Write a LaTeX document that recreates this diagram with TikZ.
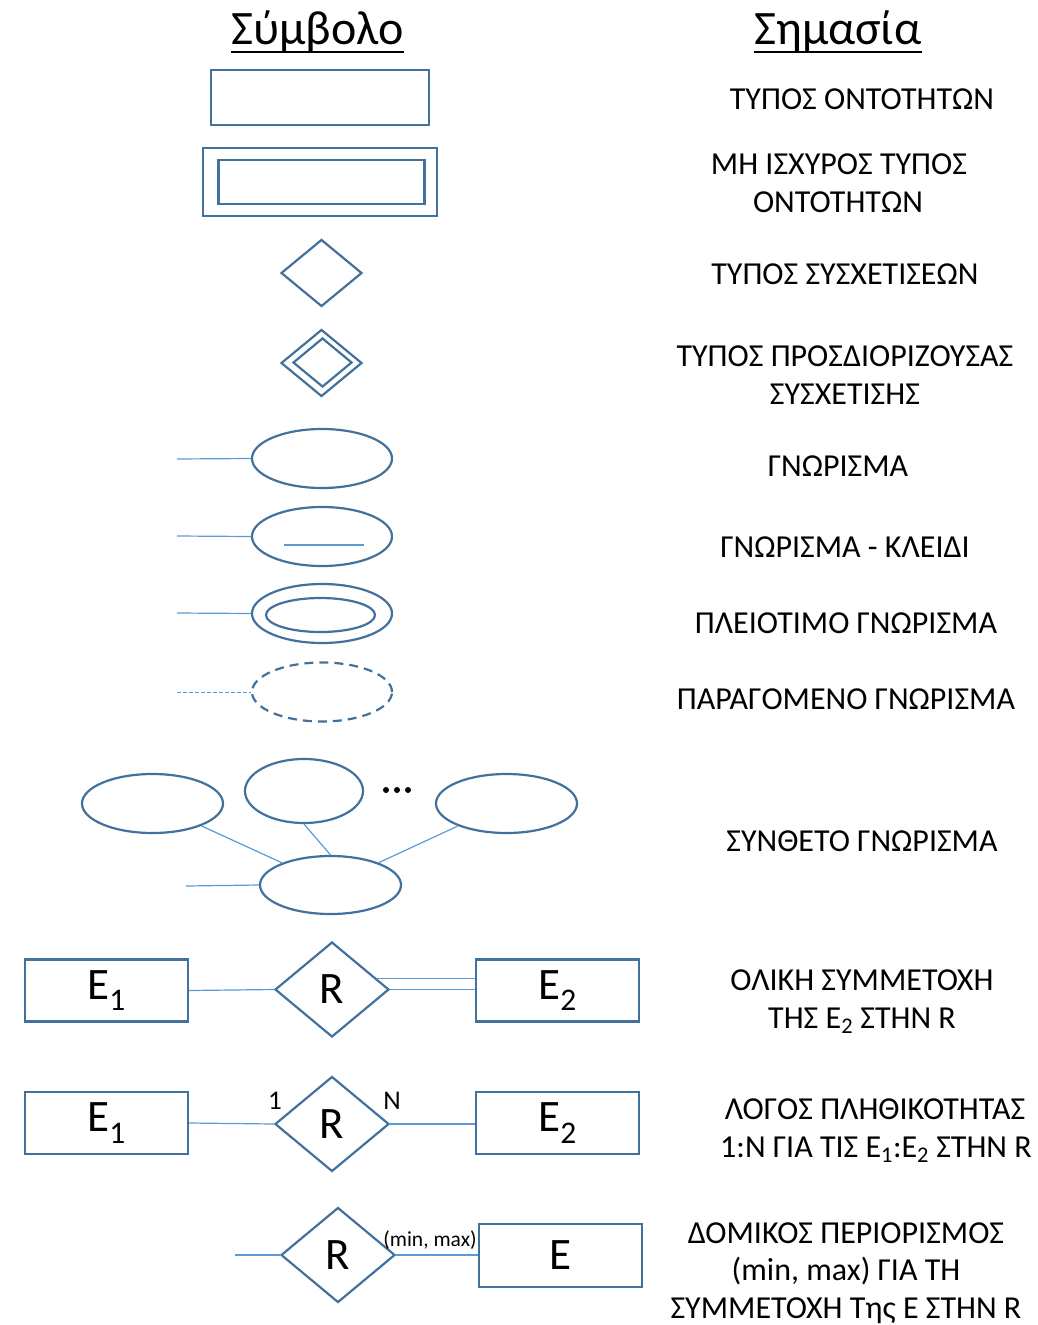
\documentclass[tikz,border=0pt]{standalone}
\usepackage{fontspec}
\setmainfont{Carlito}
\usetikzlibrary{shapes.geometric,calc}
\definecolor{shapeblue}{RGB}{65,113,156}
\definecolor{linkblue}{RGB}{91,155,213}
\begin{document}
\begin{tikzpicture}[x=1pt,y=-1pt,
  shp/.style={draw=shapeblue,line width=2.2pt,inner sep=0pt},
  ent/.style={shp,rectangle,minimum width=163pt,minimum height=62pt,font=\fontsize{45}{45}\selectfont},
  rel/.style={shp,diamond,minimum width=114pt,minimum height=95pt,font=\fontsize{45}{45}\selectfont},
  attr/.style={shp,ellipse,minimum width=140pt,minimum height=59pt},
  link/.style={draw=linkblue,line width=1.2pt},
  meaning/.style={anchor=base,inner sep=0pt,font=\fontsize{32}{38}\selectfont},
  heading/.style={anchor=base,inner sep=0pt,font=\fontsize{48}{48}\selectfont},
  card/.style={inner sep=0pt,anchor=base,font=\fontsize{27}{27}\selectfont},
]
\useasboundingbox (0,0) rectangle (1037,1325);

% column headings
\node[heading] (hsym) at (317.5,44) {Σύμβολο};
\node[heading] (hmean) at (838,44) {Σημασία};
\draw[line width=2.4pt] ([yshift=-8pt]hsym.base west) -- ([yshift=-8pt]hsym.base east);
\draw[line width=2.4pt] ([yshift=-8pt]hmean.base west) -- ([yshift=-8pt]hmean.base east);

% entity type and weak entity type
\node[shp,minimum width=218pt,minimum height=55pt] (ent) at (320,97.5) {};
\node[shp,minimum width=234pt,minimum height=68pt] (weako) at (320,182) {};
\node[shp,minimum width=206pt,minimum height=44pt] (weaki) at (321.5,182) {};

% relationship type and identifying relationship type
\node[shp,diamond,minimum width=81pt,minimum height=67pt] (rel) at (321.5,273) {};
\node[shp,diamond,minimum width=81pt,minimum height=67pt] (idro) at (321.5,363) {};
\node[shp,diamond,minimum width=59pt,minimum height=49pt] (idri) at (322.5,362.5) {};

% attributes
\coordinate (a1) at (177,459);
\coordinate (a2) at (177,536);
\coordinate (a3) at (177,613);
\coordinate (a4) at (177,692);
\node[attr] (g1) at (322,458.5) {};
\node[attr] (g2) at (322,536.5) {};
\node[attr] (g3) at (322,613.5) {};
\node[shp,ellipse,minimum width=109pt,minimum height=34pt] (g3i) at (320.5,615) {};
\node[attr,dash pattern=on 9pt off 6pt] (g4) at (322,692) {};
\draw[link] (a1) -- (g1.west);
\draw[link] (a2) -- (g2.west);
\draw[link] (a3) -- (g3.west);
\draw[link,line width=1pt,dash pattern=on 4pt off 2pt] (a4) -- (g4.west);
\draw[link] (284,545) -- (364,545);

% composite attribute
\node[shp,ellipse,minimum width=141pt,minimum height=59pt] (c1) at (152.5,803.5) {};
\node[shp,ellipse,minimum width=118pt,minimum height=64pt] (c2) at (304,791) {};
\node[shp,ellipse,minimum width=141pt,minimum height=59pt] (c3) at (506.5,803.5) {};
\node[shp,ellipse,minimum width=141pt,minimum height=58pt] (c0) at (330.5,885) {};
\coordinate (a5) at (186,886);
\draw[link] (c1) -- (c0);
\draw[link] (c2.south) -- (c0.north);
\draw[link] (c3) -- (c0);
\draw[link] (a5) -- (c0.west);
\fill (386,790) circle (3pt) (397,790) circle (3pt) (408,790) circle (3pt);

% total participation
\node[ent] (e11) at (106.5,990.5) {E\textsubscript{1}};
\node[rel] (r1) at (332,989.5) {R};
\node[ent] (e12) at (557.5,990.5) {E\textsubscript{2}};
\draw[link] (e11.east) -- (r1.west);
\draw[link] (r1.east) -- (r1.east -| e12.west);
\draw[link] (r1.14) -- (r1.14 -| e12.west);

% cardinality ratio
\node[ent] (e21) at (106.5,1123) {E\textsubscript{1}};
\node[rel] (r2) at (332,1124) {R};
\node[ent] (e22) at (557.5,1123) {E\textsubscript{2}};
\draw[link] (e21.east) -- (r2.west);
\draw[link] (r2.east) -- (r2.east -| e22.west);
\node[card] (k1) at (275,1109) {1};
\node[card] (kn) at (392,1109) {N};

% structural constraint
\coordinate (s3) at (235,1255);
\node[rel] (r3) at (338,1255) {R};
\node[ent,minimum height=63pt] (e3) at (560.5,1255.5) {E};
\draw[link] (s3) -- (r3.west);
\draw[link] (r3.east) -- (r3.east -| e3.west);
\node[inner sep=0pt,font=\fontsize{21.5}{21.5}\selectfont] (mm) at (430,1240) {(min, max)};

% meanings
\node[meaning] (m1) at (862,109) {ΤΥΠΟΣ ΟΝΤΟΤΗΤΩΝ};
\node[meaning] (m2a) at (839,174) {ΜΗ ΙΣΧΥΡΟΣ ΤΥΠΟΣ};
\node[meaning] (m2b) at (838,212) {ΟΝΤΟΤΗΤΩΝ};
\node[meaning] (m3) at (845,284) {ΤΥΠΟΣ ΣΥΣΧΕΤΙΣΕΩΝ};
\node[meaning] (m4a) at (845,366) {ΤΥΠΟΣ ΠΡΟΣΔΙΟΡΙΖΟΥΣΑΣ};
\node[meaning] (m4b) at (845,404) {ΣΥΣΧΕΤΙΣΗΣ};
\node[meaning] (m5) at (838,476) {ΓΝΩΡΙΣΜΑ};
\node[meaning] (m6) at (845,557) {ΓΝΩΡΙΣΜΑ - ΚΛΕΙΔΙ};
\node[meaning] (m7) at (846,633) {ΠΛΕΙΟΤΙΜΟ ΓΝΩΡΙΣΜΑ};
\node[meaning] (m8) at (846,709) {ΠΑΡΑΓΟΜΕΝΟ ΓΝΩΡΙΣΜΑ};
\node[meaning] (m9) at (862,851) {ΣΥΝΘΕΤΟ ΓΝΩΡΙΣΜΑ};
\node[meaning] (m10a) at (862,990) {ΟΛΙΚΗ ΣΥΜΜΕΤΟΧΗ};
\node[meaning] (m10b) at (862,1028) {ΤΗΣ E\textsubscript{2} ΣΤΗΝ R};
\node[meaning] (m11a) at (875,1119) {ΛΟΓΟΣ ΠΛΗΘΙΚΟΤΗΤΑΣ};
\node[meaning] (m11b) at (876,1157) {1:N ΓΙΑ ΤΙΣ E\textsubscript{1}:E\textsubscript{2} ΣΤΗΝ R};
\node[meaning] (m12a) at (846,1243) {ΔΟΜΙΚΟΣ ΠΕΡΙΟΡΙΣΜΟΣ};
\node[meaning] (m12b) at (846,1280.5) {(min, max) ΓΙΑ ΤΗ};
\node[meaning] (m12c) at (846,1318) {ΣΥΜΜΕΤΟΧΗ Της E ΣΤΗΝ R};
\end{tikzpicture}
\end{document}
